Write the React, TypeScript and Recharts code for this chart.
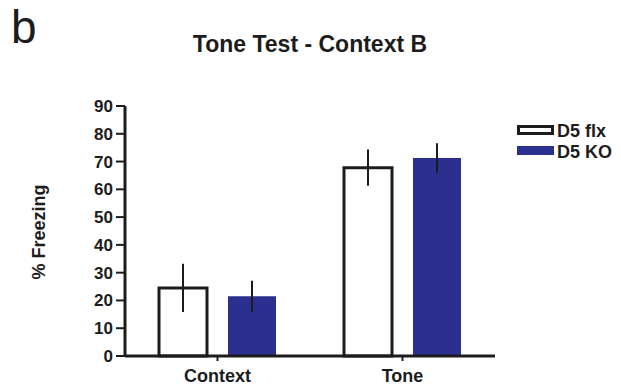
import React from 'react';
import { BarChart, Bar, XAxis, YAxis, ErrorBar, Legend } from 'recharts';

const categories = ['Context', 'Tone'];
const flxValues = [24.5, 67.8];
const flxErrors = [8.7, 6.5];
const koValues = [21.5, 71.3];
const koErrors = [5.6, 5.3];
const yTicks = [0, 10, 20, 30, 40, 50, 60, 70, 80, 90];
const seriesNames = ['D5 flx', 'D5 KO'];

const data = categories.map((c, i) => ({
  name: c,
  flx: flxValues[i],
  flxErr: flxErrors[i],
  ko: koValues[i],
  koErr: koErrors[i],
}));

const INK = '#1c1c1c';
const BLUE = '#2b2f8e';
const FONT = '"Liberation Sans", Arial, sans-serif';

const LegendContent = () => (
  <svg width={110} height={50} style={{ display: 'block' }}>
    <rect x={4.5} y={8.5} width={34} height={7} fill="#fff" stroke={INK} strokeWidth={3} />
    <text x={43} y={19} fontFamily={FONT} fontWeight="bold" fontSize={18} fill={INK}>{seriesNames[0]}</text>
    <rect x={3} y={28} width={37} height={9} fill={BLUE} />
    <text x={43} y={40} fontFamily={FONT} fontWeight="bold" fontSize={18} fill={INK}>{seriesNames[1]}</text>
  </svg>
);

export default function App() {
  return (
    <div style={{ position: 'absolute', left: 0, top: 0, width: 621, height: 389, background: '#fff' }}>
      <BarChart
        width={621}
        height={389}
        data={data}
        margin={{ top: 106, right: 126, bottom: 3, left: 65 }}
        barSize={48}
        barGap={21}
      >
        <XAxis
          dataKey="name"
          height={30}
          axisLine={{ stroke: INK, strokeWidth: 3 }}
          tickLine={{ stroke: INK, strokeWidth: 2 }}
          tickSize={5}
          tickMargin={8}
          tick={{ fill: INK, fontSize: 18, fontWeight: 'bold', fontFamily: FONT }}
        />
        <YAxis
          width={60}
          domain={[0, 90]}
          ticks={yTicks}
          interval={0}
          axisLine={{ stroke: INK, strokeWidth: 3 }}
          tickLine={{ stroke: INK, strokeWidth: 2 }}
          tickSize={9}
          tickMargin={3}
          tick={{ fill: INK, fontSize: 17, fontWeight: 'bold', fontFamily: FONT }}
        />
        <Legend
          layout="vertical"
          align="center"
          verticalAlign="middle"
          content={<LegendContent />}
          wrapperStyle={{ left: 514, top: 118, width: 110, height: 50 }}
        />
        <Bar dataKey="flx" name={seriesNames[0]} fill="#fff" stroke={INK} strokeWidth={3} isAnimationActive={false}>
          <ErrorBar dataKey="flxErr" width={0} stroke={INK} strokeWidth={2} direction="y" />
        </Bar>
        <Bar dataKey="ko" name={seriesNames[1]} fill={BLUE} isAnimationActive={false}>
          <ErrorBar dataKey="koErr" width={0} stroke={INK} strokeWidth={2} direction="y" />
        </Bar>
      </BarChart>
      <svg width={621} height={389} style={{ position: 'absolute', left: 0, top: 0, pointerEvents: 'none' }}>
        <text x={11} y={43} fontFamily={FONT} fontSize={46} fill={INK}>b</text>
        <text x={310} y={52} textAnchor="middle" fontFamily={FONT} fontWeight="bold" fontSize={23} fill={INK}>Tone Test - Context B</text>
        <text transform="translate(45,232) rotate(-90)" textAnchor="middle" fontFamily={FONT} fontWeight="bold" fontSize={18} fill={INK}>% Freezing</text>
      </svg>
    </div>
  );
}
